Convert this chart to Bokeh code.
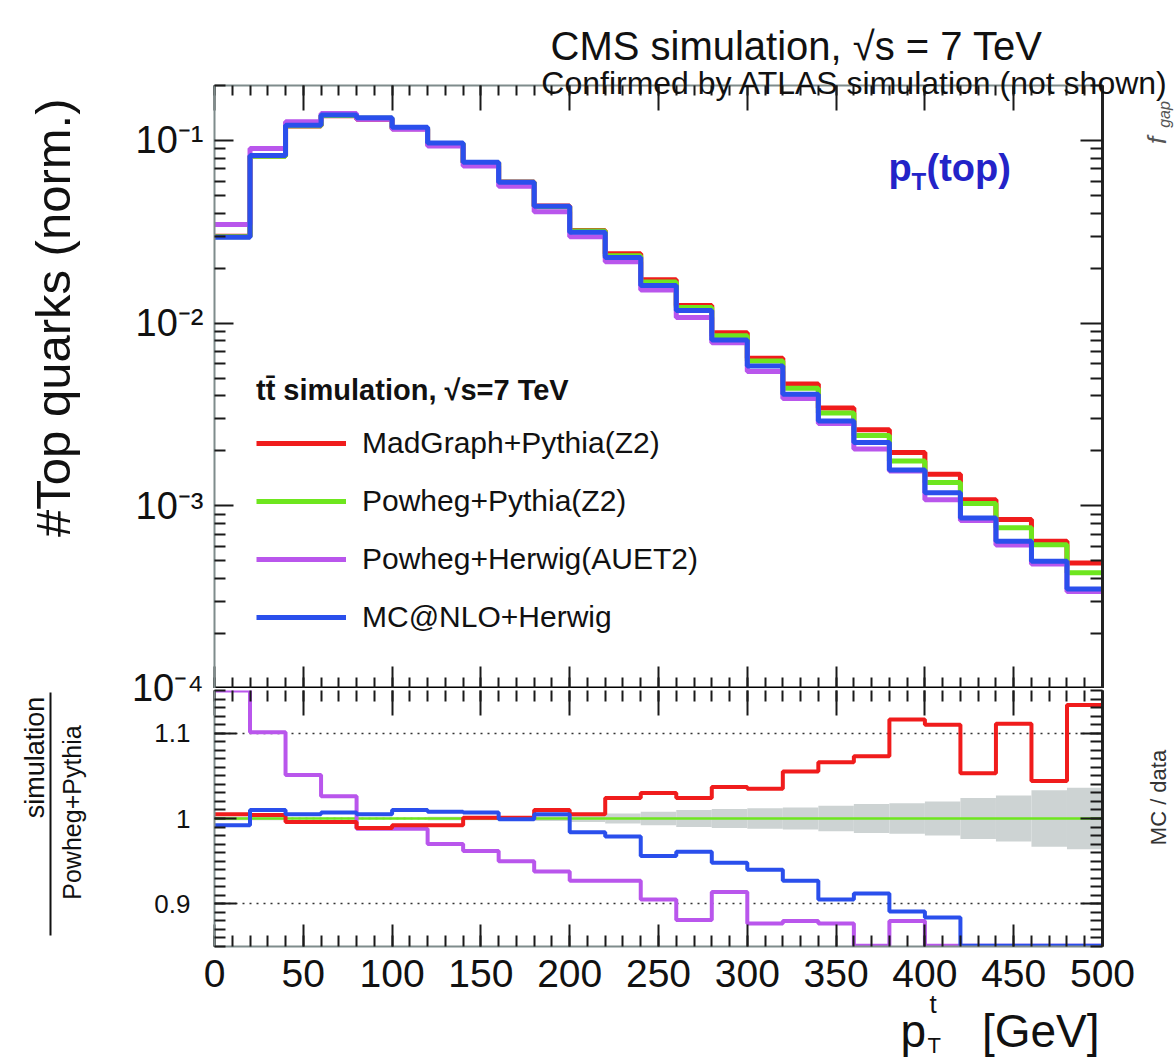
import math
from bokeh.plotting import figure
from bokeh.layouts import column
from bokeh.models import (Range1d, LogAxis, LinearAxis, FixedTicker, SingleIntervalTicker,
                          Label, Legend, LegendItem, CustomJSTickFormatter, BoxAnnotation, GridBox)
from bokeh.embed import file_html
from bokeh.resources import INLINE

# ---------------- data ----------------
bin_edges = [0, 20, 40, 60, 80, 100, 120, 140, 160, 180, 200, 220, 240, 260,
             280, 300, 320, 340, 360, 380, 400, 420, 440, 460, 480, 500]

madgraph_pythia = [0.0299, 0.0823, 0.1199, 0.1365, 0.1309, 0.1159, 0.0954, 0.0756, 0.0592,
                   0.0438, 0.0322, 0.0240, 0.0173, 0.0125, 0.00885, 0.00642, 0.00464,
                   0.00343, 0.00261, 0.00196, 0.00149, 0.00108, 0.000842, 0.000639, 0.000487]
powheg_pythia = [0.0297, 0.0820, 0.1204, 0.1370, 0.1323, 0.1168, 0.0962, 0.0755, 0.0591,
                 0.0434, 0.0320, 0.0234, 0.0168, 0.0122, 0.00853, 0.00620, 0.00440,
                 0.00322, 0.00243, 0.00176, 0.00134, 0.00103, 0.000758, 0.000612, 0.000430]
powheg_herwig = [0.0347, 0.0903, 0.1265, 0.1406, 0.1307, 0.1154, 0.0933, 0.0726, 0.0561,
                 0.0407, 0.0297, 0.0217, 0.0152, 0.01075, 0.00780, 0.00544, 0.00387,
                 0.00282, 0.00205, 0.00155, 0.00108, 0.00083, 0.00061, 0.00048, 0.00034]
mcatnlo_herwig = [0.0295, 0.0828, 0.1210, 0.1380, 0.1330, 0.1180, 0.0970, 0.0760, 0.0590,
                  0.0436, 0.0315, 0.0229, 0.0161, 0.01172, 0.00809, 0.00583, 0.00408,
                  0.00291, 0.00222, 0.00157, 0.00118, 0.000857, 0.00064, 0.000497, 0.000351]

ratio_madgraph = [1.005, 1.004, 0.996, 0.996, 0.989, 0.992, 0.992, 1.001, 1.001, 1.010,
                  1.005, 1.024, 1.030, 1.024, 1.037, 1.035, 1.055, 1.066, 1.073, 1.116,
                  1.110, 1.053, 1.111, 1.044, 1.133]
ratio_powheg_pythia = [1.0, 1.0, 1.0, 1.0, 1.0, 1.0, 1.0, 1.0, 1.0, 1.0, 1.0, 1.0, 1.0,
                       1.0, 1.0, 1.0, 1.0, 1.0, 1.0, 1.0, 1.0, 1.0, 1.0, 1.0, 1.0]
ratio_powheg_herwig = [1.170, 1.101, 1.051, 1.026, 0.988, 0.988, 0.970, 0.962, 0.950, 0.938,
                       0.927, 0.927, 0.905, 0.881, 0.914, 0.877, 0.880, 0.877, 0.844, 0.880,
                       0.806, 0.806, 0.805, 0.784, 0.790]
ratio_mcatnlo = [0.992, 1.010, 1.005, 1.007, 1.005, 1.010, 1.008, 1.007, 0.999, 1.005,
                 0.984, 0.979, 0.956, 0.961, 0.948, 0.940, 0.927, 0.905, 0.912, 0.891,
                 0.884, 0.832, 0.844, 0.812, 0.816]
stat_unc = [0.002, 0.002, 0.001, 0.001, 0.001, 0.001, 0.002, 0.002, 0.002, 0.003,
            0.004, 0.006, 0.008, 0.010, 0.011, 0.012, 0.013, 0.015, 0.017, 0.018,
            0.020, 0.024, 0.027, 0.033, 0.036]

series_names = ["MadGraph+Pythia(Z2)", "Powheg+Pythia(Z2)", "Powheg+Herwig(AUET2)", "MC@NLO+Herwig"]
log_tick_values = [1e-4, 1e-3, 1e-2, 1e-1]
log_tick_labels = ["10⁻⁴", "10⁻³", "10⁻²", "10⁻¹"]
ratio_tick_values = [0.9, 1.0, 1.1]
ratio_tick_labels = ["0.9", "1", "1.1"]

# ---------------- geometry / style ----------------
FONT = "Liberation Sans"
RED, GREEN, MAGENTA, BLUE = "#f01c1c", "#6ee61e", "#b956ec", "#2a4fec"
colors = [RED, GREEN, MAGENTA, BLUE]

W, H = 1174, 1058
FL, FR = 214, 1102      # frame left / right (canvas px)
TT = 85                 # top frame top
TOP_H = 688             # height of the upper figure
TBF = 686               # upper frame bottom (canvas px)
BTF = 690               # lower frame top (canvas px)
BB = 946                # lower frame bottom
X_RANGE = (0, 500)
LOG_RANGE = (1e-4, 0.2)
RATIO_RANGE = (0.85, 1.15)
LOG_LABEL_SIZE = "38px"
LOG_LABEL_STANDOFF = 11

L0, L1 = math.log10(LOG_RANGE[0]), math.log10(LOG_RANGE[1])

def xd(cx):
    return (cx - FL) / (FR - FL) * (X_RANGE[1] - X_RANGE[0]) + X_RANGE[0]

def yd_top(cy):
    return 10 ** (L1 - (cy - TT) / (TBF - TT) * (L1 - L0))

log_minor = [m * d for d in log_tick_values for m in (2, 3, 4, 5, 6, 7, 8, 9)]
ratio_minor = [round(0.85 + 0.01 * i, 2) for i in range(31)]

def list_fmt(vals, labs, log=False):
    code = """
        for (let i = 0; i < vals.length; i++) {
            const a = LOG ? Math.log10(tick) : tick;
            const b = LOG ? Math.log10(vals[i]) : vals[i];
            if (Math.abs(a - b) < 1e-6) return labs[i];
        }
        return "";
    """.replace("LOG", "true" if log else "false")
    return CustomJSTickFormatter(args=dict(vals=vals, labs=labs), code=code)

def style_axis(ax, major_in, minor_in, line_color="#7f8c8c", line_width=2, show_labels=False,
               label_size="36px", standoff=10):
    ax.major_tick_in = major_in
    ax.major_tick_out = 0
    ax.minor_tick_in = minor_in
    ax.minor_tick_out = 0
    ax.axis_line_color = line_color
    ax.axis_line_width = line_width
    ax.major_tick_line_color = "#1a1a1a"
    ax.major_tick_line_width = 2
    ax.minor_tick_line_color = "#1a1a1a"
    ax.minor_tick_line_width = 2
    ax.axis_label = None
    ax.major_label_text_font = FONT
    if show_labels:
        ax.major_label_text_font_size = label_size
        ax.major_label_text_color = "#111111"
        ax.major_label_standoff = standoff
    else:
        ax.major_label_text_font_size = "1px"
        ax.major_label_text_color = None
        ax.major_label_standoff = 0

def x_ticker():
    return SingleIntervalTicker(interval=50, num_minor_ticks=5)

def step_xy(vals):
    return bin_edges, list(vals) + [vals[-1]]

def add_label(fig, text, x, y, size, align="left", baseline="alphabetic", angle=0.0,
              color="#111111", style="normal", font=FONT):
    fig.add_layout(Label(text=text, x=x, y=y, text_font=font, text_font_size=size,
                         text_align=align, text_baseline=baseline, angle=angle,
                         text_color=color, text_font_style=style))

# ---------------- top panel ----------------
top = figure(width=W, height=TOP_H, x_range=Range1d(*X_RANGE), y_range=Range1d(*LOG_RANGE),
             y_axis_type="log", output_backend="svg", toolbar_location=None,
             min_border_left=FL, min_border_right=W - FR, min_border_top=TT, min_border_bottom=0,
             outline_line_color=None, background_fill_color="white", border_fill_color="white")
top.grid.visible = False

# the 10^-4 label sits on the panel boundary, so it is drawn by the overlay below
top.yaxis[0].ticker = FixedTicker(ticks=log_tick_values[1:], minor_ticks=log_minor)
top.yaxis[0].formatter = list_fmt(log_tick_values, log_tick_labels, log=True)
style_axis(top.yaxis[0], 19, 11, show_labels=True, label_size=LOG_LABEL_SIZE,
           standoff=LOG_LABEL_STANDOFF)
top.xaxis[0].ticker = x_ticker()
style_axis(top.xaxis[0], 22, 11, line_color="#000000", line_width=4)

ax_r = LogAxis(ticker=FixedTicker(ticks=log_tick_values, minor_ticks=log_minor))
style_axis(ax_r, 22, 12, line_color="#222222", line_width=3)
top.add_layout(ax_r, "right")
ax_t = LinearAxis(ticker=x_ticker())
style_axis(ax_t, 25, 10)
top.add_layout(ax_t, "above")

renderers = []
for vals, col in zip([madgraph_pythia, powheg_pythia, powheg_herwig, mcatnlo_herwig], colors):
    xs, ys = step_xy(vals)
    renderers.append(top.step(xs, ys, mode="after", line_color=col, line_width=5))

legend = Legend(items=[LegendItem(label=n, renderers=[r]) for n, r in zip(series_names, renderers)],
                location="bottom_left", title="tt\u0304 simulation, √s=7 TeV",
                title_text_font=FONT, title_text_font_size="29px", title_text_font_style="bold",
                title_text_color="#111111", title_standoff=7,
                label_text_font=FONT, label_text_font_size="30px", label_text_color="#111111",
                glyph_width=90, glyph_height=58, label_height=58, label_standoff=16,
                spacing=0, padding=0, margin=42,
                border_line_color=None, background_fill_alpha=0)
top.add_layout(legend)

PBLUE = "#2323c8"
add_label(top, "p", xd(888), yd_top(167), "38px", color=PBLUE, style="bold")
add_label(top, "T", xd(911), yd_top(181), "24px", color=PBLUE, style="bold")
add_label(top, "(top)", xd(926), yd_top(167), "38px", color=PBLUE, style="bold")

# ---------------- ratio panel ----------------
BH = H - TOP_H
bot = figure(width=W, height=BH, x_range=top.x_range, y_range=Range1d(*RATIO_RANGE),
             output_backend="svg", toolbar_location=None,
             min_border_left=FL, min_border_right=W - FR, min_border_top=BTF - TOP_H,
             min_border_bottom=H - BB,
             outline_line_color=None, background_fill_color="white", border_fill_color="white")
bot.xgrid.visible = False
bot.ygrid.ticker = FixedTicker(ticks=ratio_tick_values)
bot.ygrid.grid_line_color = "#333333"
bot.ygrid.grid_line_width = 1.5
bot.ygrid.grid_line_dash = "2 5"

bot.yaxis[0].ticker = FixedTicker(ticks=ratio_tick_values, minor_ticks=ratio_minor)
bot.yaxis[0].formatter = list_fmt(ratio_tick_values, ratio_tick_labels)
style_axis(bot.yaxis[0], 22, 11, show_labels=True, label_size="26px", standoff=24)
bot.xaxis[0].ticker = x_ticker()
style_axis(bot.xaxis[0], 22, 11, show_labels=True, label_size="39px", standoff=13)

axb_r = LinearAxis(ticker=FixedTicker(ticks=ratio_tick_values, minor_ticks=ratio_minor))
style_axis(axb_r, 22, 12, line_color="#222222", line_width=3)
bot.add_layout(axb_r, "right")
axb_t = LinearAxis(ticker=x_ticker())
style_axis(axb_t, 25, 11, line_color=None, line_width=0)
bot.add_layout(axb_t, "above")

bot.quad(left=bin_edges[:-1], right=bin_edges[1:],
         top=[1.0 + u for u in stat_unc], bottom=[1.0 - u for u in stat_unc],
         fill_color="#cdd3d3", line_color=None)

lo, hi = RATIO_RANGE
for vals, col, lw in zip([ratio_powheg_pythia, ratio_powheg_herwig, ratio_madgraph, ratio_mcatnlo],
                         [GREEN, MAGENTA, RED, BLUE], [2.5, 4, 4, 4]):
    clipped = [min(max(v, lo + 0.001), hi) for v in vals]
    xs, ys = step_xy(clipped)
    bot.step(xs, ys, mode="after", line_color=col, line_width=lw)

# ---------------- transparent overlay for texts outside the frames ----------------
ov = figure(width=W, height=H, x_range=Range1d(0, W), y_range=Range1d(H, 0),
            output_backend="svg", toolbar_location=None, min_border=0,
            x_axis_location=None, y_axis_location=None, outline_line_color=None,
            background_fill_color=None, border_fill_color=None)
ov.grid.visible = False

add_label(ov, "CMS simulation, √s = 7 TeV", 550, 45, "40px")
add_label(ov, "Confirmed by ATLAS simulation (not shown)", 1168, 82, "32px", align="right")
add_label(ov, "#Top quarks (norm.)", 52, 98, "49px", align="right", baseline="middle",
          angle=math.pi / 2)
add_label(ov, log_tick_labels[0], FL - LOG_LABEL_STANDOFF, TBF + 1, LOG_LABEL_SIZE,
          align="right", baseline="middle")

# y title of the ratio panel (a fraction)
add_label(ov, "simulation", 34, 757, "27px", align="center", baseline="middle", angle=math.pi / 2)
add_label(ov, "Powheg+Pythia", 71, 812, "25px", align="center", baseline="middle",
          angle=math.pi / 2)
ov.add_layout(BoxAnnotation(left=49, right=51, top=692, bottom=935,
                            fill_color="#111111", fill_alpha=1, line_color=None))

# x title of the ratio panel
add_label(ov, "p", 900, 1030, "46px")
add_label(ov, "t", 929, 1003, "26px")
add_label(ov, "T", 927, 1045, "22px")
add_label(ov, "[GeV]", 1099, 1030, "46px", align="right")

# fragments of a neighbouring plot at the right edge
add_label(ov, "MC / data", 1158, 797, "22px", align="center", baseline="middle",
          angle=math.pi / 2, color="#333333")
add_label(ov, "f", 1156, 140, "26px", align="center", baseline="middle", angle=math.pi / 2,
          color="#555555", style="italic")
add_label(ov, "gap", 1164, 114, "16px", align="center", baseline="middle", angle=math.pi / 2,
          color="#555555", style="italic")

panels = column(top, bot, spacing=0)
layout = GridBox(children=[(panels, 0, 0), (ov, 0, 0)])
open("out.html", "w").write(file_html(layout, INLINE))
